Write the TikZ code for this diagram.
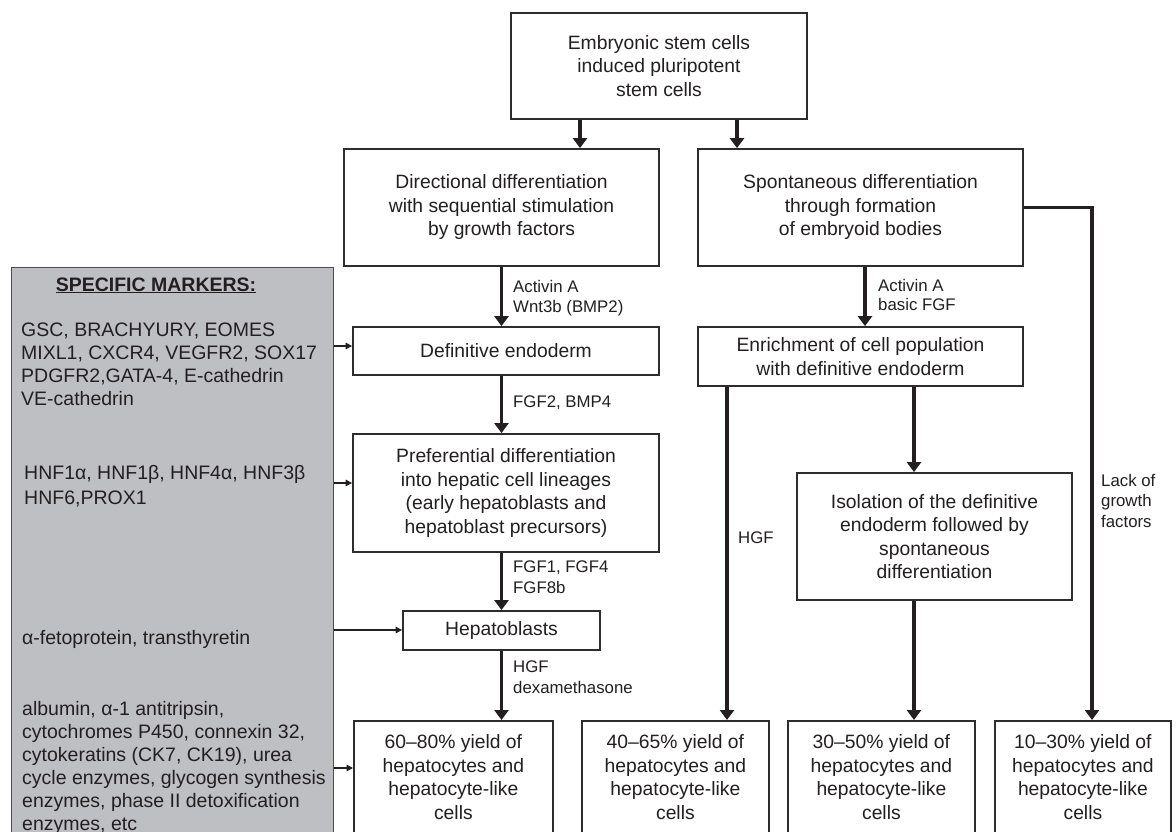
\documentclass[tikz,border=0pt]{standalone}
\usepackage{fontspec}
\setmainfont{Liberation Sans}
\usetikzlibrary{arrows.meta}
\definecolor{ink}{RGB}{35,31,32}
\definecolor{edge}{RGB}{45,45,45}
\definecolor{panel}{RGB}{190,191,195}
\begin{document}
\begin{tikzpicture}[x=1pt,y=-1pt,
  box/.style={draw=edge, line width=1.8pt, text=ink, align=center, inner sep=0pt,
    font=\fontsize{19.3}{23.5}\selectfont},
  lbl/.style={text=ink, align=left, inner sep=0pt, anchor=north west,
    font=\fontsize{16.8}{20.5}\selectfont},
  mk/.style={text=ink, align=left, inner sep=0pt, anchor=north west,
    font=\fontsize{19.5}{23}\selectfont},
  flow/.style={draw=ink, line width=3.6pt, -{Triangle[width=14pt,length=10pt]}},
  tick/.style={draw=ink, line width=1.5pt, -{Triangle[width=6.5pt,length=6.5pt]}},
]
\useasboundingbox (0,0) rectangle (1176,832);
\clip (0,0) rectangle (1176,832);
\fill[white] (0,0) rectangle (1176,832);

% marker panel
\node[draw=edge!85, line width=1.2pt, fill=panel, anchor=north west,
  minimum width=322, minimum height=620, inner sep=0pt] (gray) at (11,267) {};
\node[text=ink, anchor=base, inner sep=0pt, font=\bfseries\fontsize{19.5}{23}\selectfont]
  (mt) at (156,291) {\underline{SPECIFIC MARKERS:}};
\node[mk] (m1) at (21,323) {GSC, BRACHYURY, EOMES\\MIXL1, CXCR4, VEGFR2, SOX17\\PDGFR2,GATA-4, E-cathedrin\\VE-cathedrin};
\node[mk, font=\fontsize{19.5}{25}\selectfont] (m2) at (24,465) {HNF1α, HNF1β, HNF4α, HNF3β\\HNF6,PROX1};
\node[mk] (m3) at (22,630) {α-fetoprotein, transthyretin};
\node[mk] (m4) at (22,701) {albumin, α-1 antitripsin,\\cytochromes P450, connexin 32,\\cytokeratins (CK7, CK19), urea\\cycle enzymes, glycogen synthesis\\enzymes, phase II detoxification\\enzymes, etc};

% boxes
\node[box, minimum width=296, minimum height=106] (esc) at (659,66) {Embryonic stem cells\\induced pluripotent\\stem cells};
\node[box, minimum width=315, minimum height=117] (dir) at (501.5,207.5) {Directional differentiation\\with sequential stimulation\\by growth factors};
\node[box, minimum width=325, minimum height=117] (spon) at (860.5,207.5) {Spontaneous differentiation\\through formation\\of embryoid bodies};
\node[box, minimum width=306, minimum height=48] (defend) at (506,351) {Definitive endoderm};
\node[box, minimum width=325, minimum height=59] (enrich) at (860.5,356.5) {Enrichment of cell population\\with definitive endoderm};
\node[box, minimum width=306, minimum height=118] (pref) at (506,493) {Preferential differentiation\\into hepatic cell lineages\\(early hepatoblasts and\\hepatoblast precursors)};
\node[box, minimum width=275, minimum height=127] (iso) at (934.5,536.5) {Isolation of the definitive\\endoderm followed by\\spontaneous\\differentiation};
\node[box, minimum width=197, minimum height=39] (hepb) at (501.5,630.5) {Hepatoblasts};

\node[box, anchor=north west, minimum width=199, inner ysep=14pt] (y1) at (353,720)
  {\parbox[t][140pt][t]{190pt}{\centering 60–80\% yield of\\hepatocytes and\\hepatocyte-like\\cells}};
\node[box, anchor=north west, minimum width=187, inner ysep=14pt] (y2) at (581,720)
  {\parbox[t][140pt][t]{180pt}{\centering 40–65\% yield of\\hepatocytes and\\hepatocyte-like\\cells}};
\node[box, anchor=north west, minimum width=187, inner ysep=14pt] (y3) at (787,720)
  {\parbox[t][140pt][t]{180pt}{\centering 30–50\% yield of\\hepatocytes and\\hepatocyte-like\\cells}};
\node[box, anchor=north west, minimum width=176, inner ysep=14pt] (y4) at (994,720)
  {\parbox[t][140pt][t]{170pt}{\centering 10–30\% yield of\\hepatocytes and\\hepatocyte-like\\cells}};

% reference coordinates for connector x positions
\coordinate (ka) at (580,0);
\coordinate (kb) at (737,0);
\coordinate (kc) at (501.5,0);
\coordinate (kd) at (865,0);
\coordinate (ke) at (727,0);
\coordinate (kf) at (914,0);
\coordinate (kg) at (1092,207.5);
\coordinate (ta) at (0,346);
\coordinate (tb) at (0,483);
\coordinate (tc) at (0,630);
\coordinate (td) at (0,768);

% main connectors
\draw[flow] (esc.south -| ka) -- (dir.north -| ka);
\draw[flow] (esc.south -| kb) -- (spon.north -| kb);
\draw[flow] (dir.south -| kc) -- (defend.north -| kc);
\draw[flow] (defend.south -| kc) -- (pref.north -| kc);
\draw[flow] (pref.south -| kc) -- (hepb.north -| kc);
\draw[flow] (hepb.south -| kc) -- (y1.north -| kc);
\draw[flow] (spon.south -| kd) -- (enrich.north -| kd);
\draw[flow] (enrich.south -| ke) -- (y2.north -| ke);
\draw[flow] (enrich.south -| kf) -- (iso.north -| kf);
\draw[flow] (iso.south -| kf) -- (y3.north -| kf);
\draw[flow] (spon.east |- kg) -- (kg) -- (kg |- y4.north);

% marker connectors
\draw[tick] (gray.east |- ta) -- (defend.west |- ta);
\draw[tick] (gray.east |- tb) -- (pref.west |- tb);
\draw[tick] (gray.east |- tc) -- (hepb.west |- tc);
\draw[tick] (gray.east |- td) -- (y1.west |- td);

% connector labels
\node[lbl] (l1) at (513,280) {Activin A\\Wnt3b (BMP2)};
\node[lbl] (l2) at (513,396) {FGF2, BMP4};
\node[lbl] (l3) at (513,561) {FGF1, FGF4\\FGF8b};
\node[lbl] (l4) at (513,661) {HGF\\dexamethasone};
\node[lbl, font=\fontsize{16.8}{19}\selectfont] (l5) at (878,279) {Activin A\\basic FGF};
\node[lbl] (l6) at (738,532) {HGF};
\node[lbl] (l7) at (1101,474) {Lack of\\growth\\factors};
\end{tikzpicture}
\end{document}
